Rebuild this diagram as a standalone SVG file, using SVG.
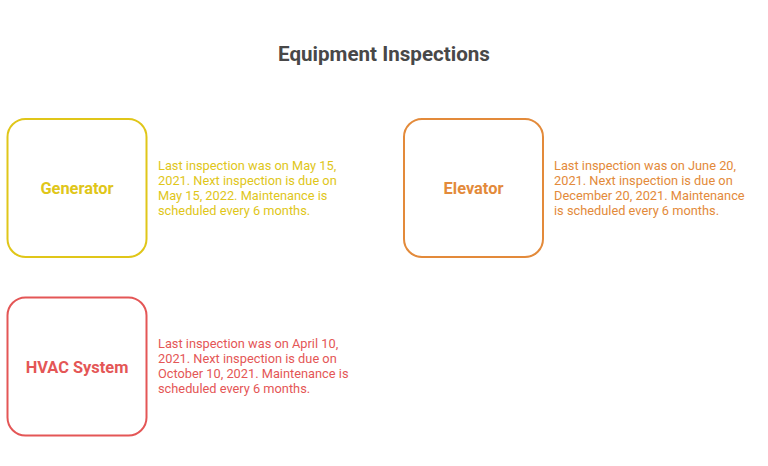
<svg xmlns="http://www.w3.org/2000/svg" width="768" height="466" viewBox="0 0 768 466">
<style>
.box{fill:#ffffff;stroke-width:2}
.lbl{font-family:Roboto,"Liberation Sans",sans-serif;font-weight:bold;font-size:16.4px;text-anchor:middle}
.desc{font-family:Roboto,"Liberation Sans",sans-serif;font-size:12.8px}
.title{font-family:Roboto,"Liberation Sans",sans-serif;font-weight:bold;font-size:20.6px;fill:#484848;text-anchor:middle}
</style>
<rect width="768" height="466" fill="#ffffff"/>
<text class="title" x="384" y="61">Equipment Inspections</text>
<g id="connectors"></g>
<g id="generator">
<rect class="box" x="7.5" y="119" width="139" height="138" rx="18" stroke="#e0c619"/>
<text class="lbl" x="77" y="194" fill="#e0c619">Generator</text>
<text class="desc" fill="#e0c619"><tspan x="158" y="170">Last inspection was on May 15,</tspan><tspan x="158" y="185">2021. Next inspection is due on</tspan><tspan x="158" y="200">May 15, 2022. Maintenance is</tspan><tspan x="158" y="215">scheduled every 6 months.</tspan></text>
</g>
<g id="elevator">
<rect class="box" x="404" y="119" width="139" height="138" rx="18" stroke="#e38a3a"/>
<text class="lbl" x="473.5" y="194" fill="#e38a3a">Elevator</text>
<text class="desc" fill="#e38a3a"><tspan x="554" y="170">Last inspection was on June 20,</tspan><tspan x="554" y="185">2021. Next inspection is due on</tspan><tspan x="554" y="200">December 20, 2021. Maintenance</tspan><tspan x="554" y="215">is scheduled every 6 months.</tspan></text>
</g>
<g id="hvac">
<rect class="box" x="7.5" y="297.5" width="139" height="138" rx="18" stroke="#e45656"/>
<text class="lbl" x="77" y="373" fill="#e45656">HVAC System</text>
<text class="desc" fill="#e45656"><tspan x="158" y="348">Last inspection was on April 10,</tspan><tspan x="158" y="363">2021. Next inspection is due on</tspan><tspan x="158" y="378">October 10, 2021. Maintenance is</tspan><tspan x="158" y="393">scheduled every 6 months.</tspan></text>
</g>
</svg>
